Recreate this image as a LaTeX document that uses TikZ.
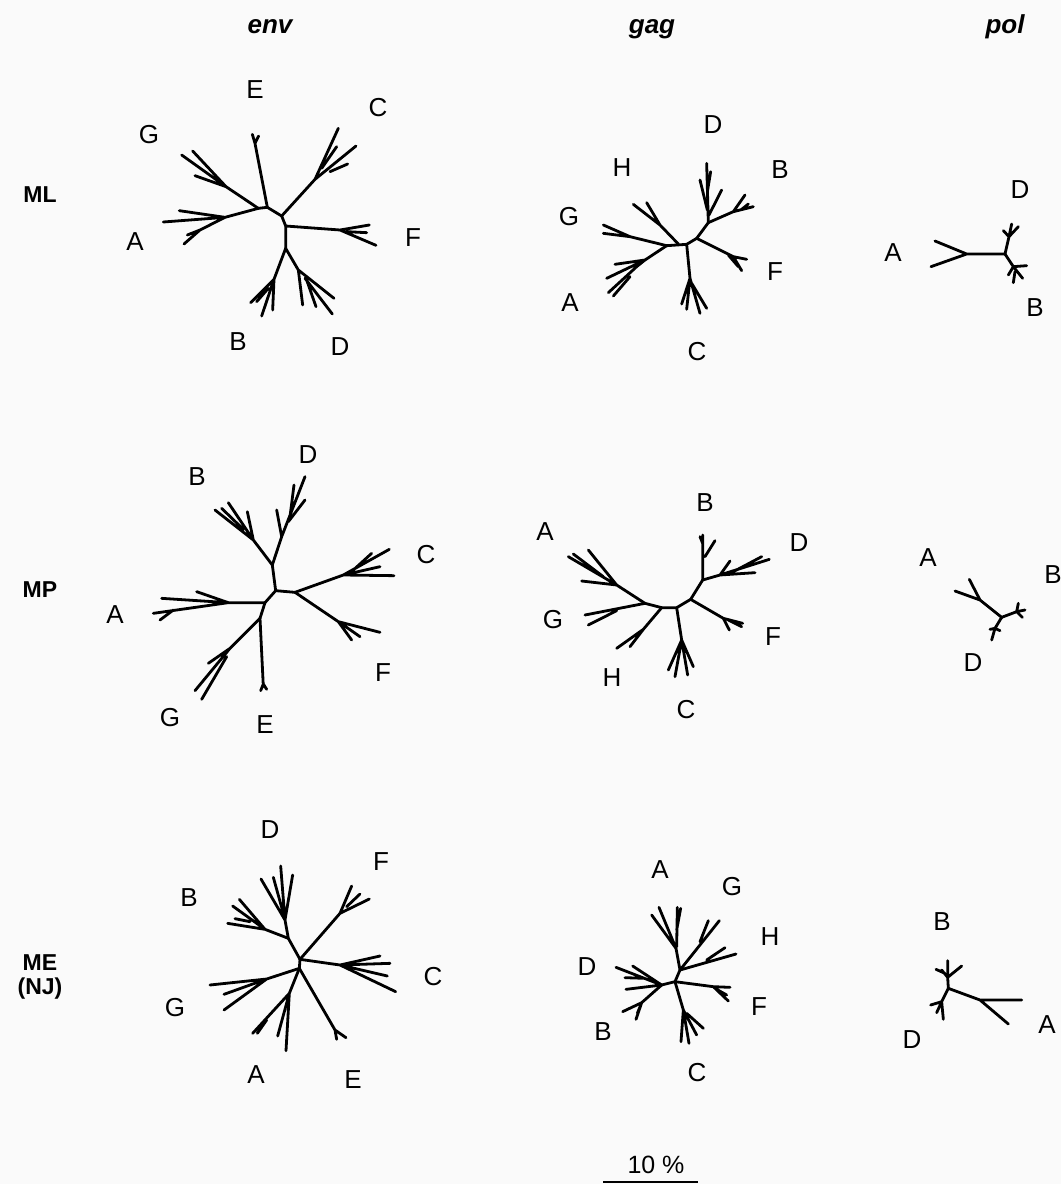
\documentclass[tikz,border=0pt]{standalone}
\usepackage{fontspec}
\setmainfont{Liberation Sans}

\begin{document}
\begin{tikzpicture}[
		x=1pt, y=-1pt,
		branch/.style={line width=2.8pt, line cap=round, line join=round},
		taxon/.style={inner sep=0pt, font=\fontsize{26}{30}\selectfont},
		gene head/.style={inner sep=0pt, anchor=base, font=\fontsize{26}{30}\selectfont\bfseries\itshape},
		method label/.style={inner sep=0pt, align=center, font=\fontsize{23}{24}\selectfont\bfseries}
		]
		
		% Background and page size
		\fill[black!2] (0,0) rectangle (1061,1184);
		\useasboundingbox (0,0) rectangle (1061,1184);
		
		% Column headings
		\node[gene head] (envhead) at (270,33) {env};
		\node[gene head] (gaghead) at (652,33) {gag};
		\node[gene head] (polhead) at (1005,33) {pol};
		
		% Row labels
		\node[method label] (ml) at (40,195) {ML};
		\node[method label] (mp) at (40,590) {MP};
		\node[method label] (me) at (40,977) {ME\\(NJ)};
		
		% =========================================================
		% Row 1: ML
		% =========================================================
		% env
		\begin{scope}[shift={(100,90)}, scale=1/3]
			\draw[branch] (475,355) -- (502,352) -- (545,378) -- (557,408) -- (557,475);
			% E
			\draw[branch] (502,352) -- (465,160) -- (457,133) (465,160) -- (476,138);
			% G
			\draw[branch] (475,355) -- (378,290) -- (245,195) (378,290) -- (278,183) (378,290) -- (285,257);
			% A
			\draw[branch] (475,355) -- (375,382) -- (190,396) (375,382) -- (238,362)
				(375,382) -- (300,420) -- (252,462) (300,420) -- (262,435);
			% C
			\draw[branch] (545,378) -- (645,268) -- (715,115) (665,235) -- (710,170)
				(645,268) -- (768,168) (690,245) -- (743,222);
			% F
			\draw[branch] (557,408) -- (720,420) -- (808,405) (720,420) -- (828,466) (740,425) -- (800,428);
			% B
			\draw[branch] (557,475) -- (522,568) -- (485,678) (522,568) -- (518,660)
				(522,568) -- (452,638) (505,595) -- (470,635);
			% D
			\draw[branch] (557,475) -- (595,540) -- (608,645) (595,540) -- (702,625)
				(615,565) -- (697,672) (620,570) -- (648,650);
		\end{scope}
		\foreach \t/\x/\y in {E/255/90, C/378/108, G/149/135, A/135/242, F/413/238, B/238/342, D/340/347}
			\node[taxon] (mlenv\t) at (\x,\y) {\t};
		
		% gag
		\begin{scope}[shift={(520,100)}, scale=1/3]
			\draw[branch] (440,437) -- (500,433) -- (530,415) -- (565,368);
			% H
			\draw[branch] (475,432) -- (420,375) -- (340,313) (420,375) -- (380,308);
			% G
			\draw[branch] (440,437) -- (330,410) -- (250,375) (330,410) -- (250,400);
			% A
			\draw[branch] (440,437) -- (375,480) -- (285,493) (375,480) -- (260,535)
				(375,480) -- (350,500) -- (265,578) (330,530) -- (280,588);
			% C
			\draw[branch] (500,433) -- (510,535) -- (485,612) (510,535) -- (500,628)
				(510,535) -- (540,640) (515,550) -- (560,625);
			% F
			\draw[branch] (530,415) -- (640,470) -- (680,478) (640,470) -- (665,512) (625,465) -- (655,500);
			% D
			\draw[branch] (565,368) -- (560,190) (540,240) -- (562,330) (605,270) -- (567,345) (572,215) -- (563,270);
			% B
			\draw[branch] (565,368) -- (640,335) -- (675,285) (640,335) -- (700,320) (665,328) -- (685,312);
		\end{scope}
		\foreach \t/\x/\y in {D/713/125, H/622/168, B/780/170, G/569/217, F/775/272, A/570/303, C/697/352}
			\node[taxon] (mlgag\t) at (\x,\y) {\t};
		
		% pol
		\begin{scope}[shift={(860,140)}, scale=1/3]
			\draw[branch] (225,303) -- (320,342) -- (213,380) (320,342) -- (435,342);
			\draw[branch] (435,342) -- (447,290) -- (430,272) (447,290) -- (455,252) (447,290) -- (475,260);
			\draw[branch] (435,342) -- (460,380) -- (500,377) (460,380) -- (488,415)
				(460,380) -- (445,405) (465,395) -- (460,428);
		\end{scope}
		\foreach \t/\x/\y in {D/1020/190, A/893/253, B/1035/308}
			\node[taxon] (mlpol\t) at (\x,\y) {\t};
		
		% =========================================================
		% Row 2: MP
		% =========================================================
		% env
		\begin{scope}[shift={(90,430)}, scale=1/3]
			\draw[branch] (525,518) -- (557,482) -- (615,487) (557,482) -- (547,405) (525,518) -- (510,565);
			% A
			\draw[branch] (525,518) -- (415,518) -- (215,505) (415,518) -- (320,485)
				(415,518) -- (190,550) (250,540) -- (210,570);
			% B
			\draw[branch] (547,405) -- (490,330) -- (375,240) (490,330) -- (415,218)
				(460,298) -- (395,235) (490,330) -- (472,245);
			% D
			\draw[branch] (547,405) -- (575,320) -- (560,240) (575,320) -- (645,140)
				(595,275) -- (645,210) (600,260) -- (612,165);
			% C
			\draw[branch] (615,487) -- (760,435) -- (898,358) (760,435) -- (912,437)
				(760,435) -- (870,410) (790,420) -- (845,370);
			% F
			\draw[branch] (615,487) -- (745,575) -- (870,607) (745,575) -- (785,630) (760,585) -- (810,620);
			% G
			\draw[branch] (510,565) -- (420,655) -- (315,782) (420,655) -- (355,700) (410,680) -- (335,808);
			% E
			\draw[branch] (510,565) -- (520,770) (520,762) -- (512,782) (520,762) -- (530,778);
		\end{scope}
		\foreach \t/\x/\y in {D/308/455, B/197/477, C/426/555, A/115/615, F/383/673, G/170/718, E/265/725}
			\node[taxon] (mpenv\t) at (\x,\y) {\t};
		
		% gag
		\begin{scope}[shift={(520,480)}, scale=1/3]
			\draw[branch] (375,370) -- (425,383) -- (470,383) -- (512,358) -- (548,300);
			% A
			\draw[branch] (375,370) -- (290,315) -- (145,230) (290,315) -- (205,210)
				(290,315) -- (185,303) (250,290) -- (160,222);
			% G
			\draw[branch] (375,370) -- (195,405) (290,392) -- (205,435);
			% H
			\draw[branch] (425,383) -- (370,448) -- (290,505) (370,448) -- (330,500);
			% C
			\draw[branch] (470,383) -- (485,480) -- (465,590) (485,480) -- (445,570)
				(485,480) -- (503,585) (485,480) -- (520,560);
			% F
			\draw[branch] (512,358) -- (610,415) -- (668,430) (610,415) -- (628,450) (625,420) -- (665,440);
			% B
			\draw[branch] (548,300) -- (548,165) (555,230) -- (585,182) (548,190) -- (540,170);
			% D
			\draw[branch] (548,300) -- (600,285) -- (748,238) (600,285) -- (705,278)
				(600,285) -- (630,243) (640,275) -- (725,230);
		\end{scope}
		\foreach \t/\x/\y in {B/705/503, A/545/532, D/799/543, G/553/620, F/773/637, H/612/678, C/686/710}
			\node[taxon] (mpgag\t) at (\x,\y) {\t};
		
		% pol
		\begin{scope}[shift={(890,540)}, scale=1/3]
			\draw[branch] (195,153) -- (270,180) -- (238,118) (270,180) -- (335,232);
			\draw[branch] (335,232) -- (380,215) -- (385,190) (380,215) -- (405,210) (380,215) -- (397,232);
			\draw[branch] (335,232) -- (315,265) -- (305,300) (315,265) -- (300,268) (315,265) -- (330,272);
		\end{scope}
		\foreach \t/\x/\y in {A/928/558, B/1053/575, D/973/663}
			\node[taxon] (mppol\t) at (\x,\y) {\t};
		
		% =========================================================
		% Row 3: ME (NJ)
		% =========================================================
		% env
		\begin{scope}[shift={(150,800)}, scale=1/3]
			% D and B
			\draw[branch] (450,478) -- (415,415) -- (405,360) -- (392,198) (405,360) -- (333,237)
				(405,360) -- (428,225) (400,340) -- (370,232);
			\draw[branch] (415,415) -- (345,388) -- (248,318) (345,388) -- (268,298)
				(345,388) -- (233,370) (300,365) -- (255,356);
			% F
			\draw[branch] (450,478) -- (570,340) -- (605,258) (570,340) -- (658,297) (590,320) -- (630,282);
			% C
			\draw[branch] (450,478) -- (570,495) -- (690,468) (570,495) -- (720,490)
				(570,495) -- (712,528) (570,495) -- (737,575);
			% G
			\draw[branch] (450,478) -- (448,505) -- (350,537) -- (180,555) (350,537) -- (222,583) (350,537) -- (222,630);
			% A
			\draw[branch] (448,505) -- (418,580) -- (308,700) (418,580) -- (383,708)
				(418,580) -- (408,752) (350,660) -- (322,700);
			% E
			\draw[branch] (448,505) -- (555,690) -- (588,713) (555,690) -- (560,718);
		\end{scope}
		\foreach \t/\x/\y in {D/270/830, F/381/862, B/189/898, C/433/977, G/175/1008, A/256/1075, E/353/1080}
			\node[taxon] (meenv\t) at (\x,\y) {\t};
		
		% gag
		\begin{scope}[shift={(560,850)}, scale=1/3]
			\draw[branch] (305,405) -- (345,395) -- (360,360) -- (348,295);
			% A
			\draw[branch] (348,295) -- (275,195) (348,295) -- (297,172) (350,290) -- (352,172) (350,240) -- (362,175);
			% G and H
			\draw[branch] (360,360) -- (478,212) (420,275) -- (445,212);
			\draw[branch] (360,360) -- (528,312) (440,330) -- (495,293);
			% F
			\draw[branch] (345,395) -- (460,410) -- (510,412) (460,410) -- (505,453) (470,418) -- (500,435);
			% C
			\draw[branch] (345,395) -- (370,480) -- (363,575) (370,480) -- (387,580)
				(370,480) -- (410,555) (380,490) -- (430,535);
			% D
			\draw[branch] (305,405) -- (168,352) (305,405) -- (218,348) (255,385) -- (195,383) (305,405) -- (198,418);
			% B
			\draw[branch] (305,405) -- (245,458) -- (188,485) (245,458) -- (228,508) (245,458) -- (232,490);
		\end{scope}
		\foreach \t/\x/\y in {A/660/870, G/732/887, H/770/937, D/587/967, F/759/1007, B/603/1032, C/697/1073}
			\node[taxon] (megag\t) at (\x,\y) {\t};
		
		% pol
		\begin{scope}[shift={(880,890)}, scale=1/3]
			\draw[branch] (205,295) -- (300,330) -- (425,330) (300,330) -- (385,402);
			\draw[branch] (205,295) -- (203,262) -- (185,240) (203,262) -- (203,212) (203,262) -- (245,228) (195,250) -- (168,238);
			\draw[branch] (205,295) -- (185,335) -- (152,345) (185,335) -- (190,388) (185,335) -- (170,368);
		\end{scope}
		\foreach \t/\x/\y in {B/942/922, A/1047/1025, D/912/1040}
			\node[taxon] (mepol\t) at (\x,\y) {\t};
		
		% Scale bar
		\node[inner sep=0pt, font=\fontsize{25}{28}\selectfont] (scaletext) at (656,1165) {10 \%};
		\coordinate (barL) at (603,1182);
		\coordinate (barR) at (698,1182);
		\draw[line width=1.8pt] (barL) -- (barR);
		
	\end{tikzpicture}
\end{document}
